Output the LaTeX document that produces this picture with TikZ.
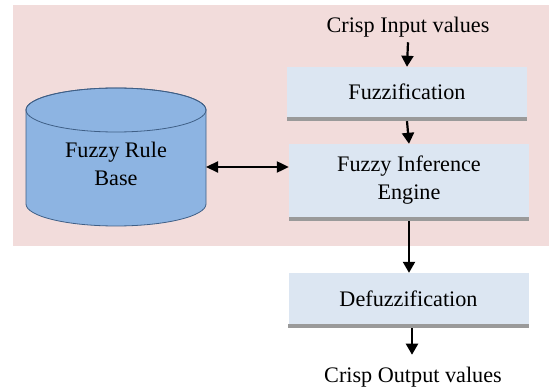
\documentclass[tikz,border=0pt]{standalone}
\usepackage{fontspec}
\setmainfont{Liberation Serif}
\usetikzlibrary{arrows.meta}
\definecolor{panelpink}{HTML}{F2DCDB}
\definecolor{boxblue}{HTML}{DCE6F2}
\definecolor{boxshadow}{HTML}{9A9A9A}
\definecolor{cylfill}{HTML}{8DB4E2}
\definecolor{cylline}{HTML}{3F5F86}
\tikzset{
  x=1pt, y=1pt,
  every node/.style={font=\fontsize{22.2}{28}\selectfont, text=black},
  stage/.style={fill=boxblue, minimum width=240pt, align=center, inner sep=0pt},
  flow/.style={line width=2.2pt, -{Triangle[length=11pt,width=12pt]}},
  both/.style={line width=2.2pt, {Triangle[length=12pt,width=11pt]}-{Triangle[length=12pt,width=11pt]}},
  label/.style={inner sep=5pt}
}
\newcommand{\stageshadow}[1]{%
  \fill[boxshadow] ([yshift=-4pt]#1.south west) rectangle (#1.south east);}
\begin{document}
\begin{tikzpicture}
\useasboundingbox (0,0) rectangle (549,391);
\fill[white] (0,0) rectangle (549,391);
% shaded panel behind the fuzzy part of the system
\fill[panelpink] (13,145) rectangle (549,386);

% processing stages
\node[stage, minimum height=50pt] (fuzz) at (407,299) {Fuzzification};
\node[stage, minimum height=73pt] (engine) at (409,210.5) {Fuzzy Inference\\Engine};
\node[stage, minimum height=51pt] (defuzz) at (408.5,92.5) {Defuzzification};
\stageshadow{fuzz}
\stageshadow{engine}
\stageshadow{defuzz}

% rule base drawn as a cylinder
\filldraw[fill=cylfill, draw=cylline, line width=0.8pt]
  (26,281) -- (26,187) arc[start angle=180, end angle=360, x radius=90, y radius=22]
  -- (206,281) arc[start angle=0, end angle=180, x radius=90, y radius=22] -- cycle;
\draw[cylline, line width=0.8pt] (116,281) ellipse[x radius=90, y radius=22];
\node[align=center, inner sep=0pt] (rules) at (116,227) {Fuzzy Rule\\Base};
\coordinate (rulesedge) at (206,224);

% input and output labels
\node[label] (crispin) at (408,364) {Crisp Input values};
\node[label] (crispout) at (413,14) {Crisp Output values};

% connectors
\draw[flow] (crispin.south) -- (fuzz.north);
\draw[flow] ([yshift=-4pt]fuzz.south) -- (engine.north);
\draw[flow] ([yshift=-4pt]engine.south) -- (engine.south |- defuzz.north);
\draw[flow] ([xshift=3.5pt,yshift=-4pt]defuzz.south) -- ([xshift=-1pt,yshift=7pt]crispout.north);
\draw[both] (rulesedge) -- (rulesedge -| engine.west);
\end{tikzpicture}
\end{document}
